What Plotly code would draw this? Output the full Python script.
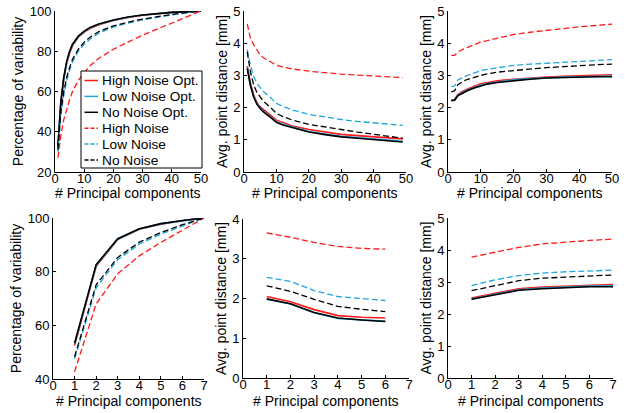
import plotly.graph_objects as go

names = ["High Noise Opt.", "Low Noise Opt.", "No Noise Opt.", "High Noise", "Low Noise", "No Noise"]
colors = ["#ff1a1a", "#1ea6db", "#000000", "#ff1a1a", "#1ea6db", "#000000"]
dashes = ["solid", "solid", "solid", "dash", "dash", "dash"]

# Panel 1: top-left (percentage of variability, 50 PCs)
x_p1 = [1, 2, 3, 4, 5, 6, 8, 10, 12, 15, 20, 25, 30, 35, 40, 45, 50]
p1_high_opt = [32, 54, 66, 74, 79, 82.8, 87, 89.5, 91.3, 93.2, 95.3, 96.8, 97.9, 98.7, 99.3, 99.7, 100]
p1_low_opt = [32.5, 54.5, 66.5, 74.5, 79.5, 83.2, 87.3, 89.8, 91.6, 93.4, 95.4, 96.9, 98.0, 98.8, 99.3, 99.7, 100]
p1_no_opt = [33, 55, 67, 75, 80, 83.5, 87.5, 90, 91.8, 93.5, 95.5, 97, 98, 98.8, 99.3, 99.7, 100]
p1_high = [27, 38, 46, 51.5, 56, 60, 65.5, 69.5, 72.8, 76.5, 81, 84.5, 88, 91, 94, 97, 100]
p1_low = [30, 48, 58, 65.5, 70.5, 74.5, 80, 83.5, 86, 89, 92, 94, 95.6, 97, 98.1, 99.1, 100]
p1_no = [31, 50, 60, 67, 72, 76, 81, 84.5, 87, 89.8, 92.6, 94.5, 96, 97.2, 98.3, 99.2, 100]

# Panel 2: top-middle (avg point distance, decreasing)
x_p2 = [1, 2, 3, 4, 5, 6, 8, 10, 12, 15, 20, 25, 30, 35, 40, 45, 49]
p2_high_opt = [3.29, 2.75, 2.39, 2.15, 2.02, 1.93, 1.78, 1.61, 1.53, 1.43, 1.32, 1.24, 1.17, 1.13, 1.09, 1.06, 1.03]
p2_low_opt = [3.24, 2.70, 2.35, 2.12, 1.99, 1.89, 1.73, 1.56, 1.48, 1.39, 1.26, 1.18, 1.11, 1.07, 1.03, 0.99, 0.95]
p2_no_opt = [3.22, 2.68, 2.33, 2.10, 1.97, 1.87, 1.71, 1.54, 1.46, 1.37, 1.24, 1.16, 1.09, 1.05, 1.01, 0.97, 0.93]
p2_high = [4.6, 4.15, 3.95, 3.78, 3.63, 3.55, 3.44, 3.32, 3.26, 3.2, 3.13, 3.08, 3.04, 3.01, 2.98, 2.95, 2.93]
p2_low = [3.8, 3.3, 2.96, 2.76, 2.62, 2.5, 2.33, 2.13, 2.04, 1.92, 1.79, 1.7, 1.63, 1.57, 1.52, 1.48, 1.45]
p2_no = [3.73, 3.1, 2.7, 2.47, 2.33, 2.2, 2.02, 1.82, 1.72, 1.61, 1.48, 1.39, 1.32, 1.24, 1.17, 1.1, 1.05]

# Panel 3: top-right (avg point distance, increasing)
x_p3 = [1, 2, 3, 4, 5, 6, 8, 10, 12, 15, 20, 25, 30, 35, 40, 45, 50]
p3_high_opt = [2.24, 2.25, 2.4, 2.48, 2.53, 2.58, 2.66, 2.74, 2.78, 2.83, 2.88, 2.92, 2.95, 2.97, 2.99, 3.01, 3.02]
p3_low_opt = [2.22, 2.24, 2.38, 2.45, 2.5, 2.55, 2.63, 2.7, 2.75, 2.8, 2.86, 2.9, 2.93, 2.95, 2.96, 2.97, 2.98]
p3_no_opt = [2.21, 2.23, 2.37, 2.43, 2.47, 2.53, 2.61, 2.68, 2.73, 2.78, 2.84, 2.88, 2.92, 2.94, 2.95, 2.96, 2.96]
p3_high = [3.62, 3.62, 3.73, 3.79, 3.83, 3.87, 3.96, 4.04, 4.08, 4.15, 4.27, 4.34, 4.4, 4.45, 4.51, 4.55, 4.59]
p3_low = [2.65, 2.67, 2.86, 2.92, 2.96, 3.0, 3.08, 3.15, 3.19, 3.24, 3.31, 3.35, 3.38, 3.41, 3.43, 3.46, 3.49]
p3_no = [2.49, 2.52, 2.71, 2.78, 2.84, 2.88, 2.95, 3.0, 3.05, 3.1, 3.15, 3.2, 3.24, 3.27, 3.31, 3.33, 3.35]

# Panel 4: bottom-left (percentage of variability, 7 PCs)
x_p4 = [1, 2, 3, 4, 5, 6, 7]
p4_high_opt = [52.5, 82, 92, 95.8, 97.7, 99, 100]
p4_low_opt = [53, 82.3, 92.1, 95.9, 97.8, 99, 100]
p4_no_opt = [53.3, 82.6, 92.3, 96, 97.9, 99.1, 100]
p4_high = [42.7, 68, 79.2, 85.9, 90.9, 95.6, 100]
p4_low = [47.5, 74, 84.5, 90.3, 94, 97, 100]
p4_no = [48.3, 75.1, 85.3, 91, 94.6, 97.5, 100]

# Panel 5: bottom-middle
x_p5 = [1, 2, 3, 4, 5, 6]
p5_high_opt = [2.05, 1.92, 1.72, 1.57, 1.53, 1.51]
p5_low_opt = [1.98, 1.86, 1.64, 1.5, 1.46, 1.43]
p5_no_opt = [1.99, 1.87, 1.65, 1.51, 1.46, 1.42]
p5_high = [3.65, 3.54, 3.41, 3.31, 3.26, 3.24]
p5_low = [2.53, 2.43, 2.2, 2.05, 2.0, 1.95]
p5_no = [2.32, 2.18, 1.98, 1.8, 1.73, 1.67]

# Panel 6: bottom-right
x_p6 = [1, 2, 3, 4, 5, 6, 7]
p6_high_opt = [2.5, 2.64, 2.79, 2.84, 2.87, 2.9, 2.92]
p6_low_opt = [2.47, 2.61, 2.76, 2.81, 2.85, 2.87, 2.88]
p6_no_opt = [2.46, 2.6, 2.74, 2.79, 2.83, 2.85, 2.85]
p6_high = [3.78, 3.93, 4.08, 4.19, 4.25, 4.3, 4.34]
p6_low = [2.89, 3.07, 3.2, 3.28, 3.32, 3.35, 3.37]
p6_no = [2.73, 2.89, 3.04, 3.12, 3.16, 3.19, 3.22]

panels = [
    (x_p1, [p1_high_opt, p1_low_opt, p1_no_opt, p1_high, p1_low, p1_no]),
    (x_p2, [p2_high_opt, p2_low_opt, p2_no_opt, p2_high, p2_low, p2_no]),
    (x_p3, [p3_high_opt, p3_low_opt, p3_no_opt, p3_high, p3_low, p3_no]),
    (x_p4, [p4_high_opt, p4_low_opt, p4_no_opt, p4_high, p4_low, p4_no]),
    (x_p5, [p5_high_opt, p5_low_opt, p5_no_opt, p5_high, p5_low, p5_no]),
    (x_p6, [p6_high_opt, p6_low_opt, p6_no_opt, p6_high, p6_low, p6_no]),
]

W, H = 628, 413
# pixel boxes: (x0, x1, ytop, ybottom)
boxes = [(55, 201, 11, 172), (244, 406, 11, 172), (448, 612, 11, 172),
         (53, 204, 218, 379), (243, 409, 219, 378), (448, 613, 218, 378)]
xtitle_y = [193, 193, 193, 401, 401, 401]
xranges = [[0, 50], [0, 50], [0, 50], [0, 7], [0, 7], [0, 7]]
yranges = [[20, 100], [0, 5], [0, 5], [40, 100], [0, 4], [0, 5]]
ydticks = [20, 1, 1, 20, 1, 1]
xdticks = [10, 10, 10, 1, 1, 1]
xtitle = "# Principal components"
ytitles = ["Percentage of variability", "Avg. point distance [mm]", "Avg. point distance [mm]",
           "Percentage of variability", "Avg. point distance [mm]", "Avg. point distance [mm]"]
DASH = "6px,3px"

fig = go.Figure()
for i, (xs, series) in enumerate(panels):
    suffix = "" if i == 0 else str(i + 1)
    for j, ys in enumerate(series):
        fig.add_trace(go.Scatter(
            x=xs, y=ys, mode="lines", name=names[j],
            line=dict(color=colors[j], dash=DASH if dashes[j] == "dash" else "solid",
                      width=1.6 if dashes[j] == "solid" else 1.3),
            xaxis="x" + suffix, yaxis="y" + suffix,
            showlegend=False, legendgroup=names[j]))

font_family = "Liberation Sans, Arial, sans-serif"
layout = dict(width=W, height=H, margin=dict(l=0, r=0, t=0, b=0),
              paper_bgcolor="white", plot_bgcolor="white", showlegend=False,
              font=dict(family=font_family, size=13, color="black"))
annotations = []
for i in range(6):
    suffix = "" if i == 0 else str(i + 1)
    x0, x1, yt, yb = boxes[i]
    axcommon = dict(showgrid=False, zeroline=False, showline=True, linecolor="black", linewidth=1,
                    ticks="inside", ticklen=3, tickcolor="black", mirror=False, automargin=False,
                    tickfont=dict(size=13, family=font_family, color="black"))
    layout["xaxis" + suffix] = dict(axcommon, domain=[x0 / W, x1 / W], range=xranges[i],
                                    dtick=xdticks[i], tick0=0, anchor="y" + suffix,
                                    ticklabelstandoff=-6)
    layout["yaxis" + suffix] = dict(axcommon, domain=[1 - yb / H, 1 - yt / H], range=yranges[i],
                                    dtick=ydticks[i], tick0=0, anchor="x" + suffix,
                                    title=dict(text=ytitles[i], standoff=2, font=dict(size=14)))
    # x-axis title placed just under the tick labels
    annotations.append(dict(text=xtitle, xref="x" + suffix + " domain", yref="paper",
                            x=0.5, y=1 - xtitle_y[i] / H, xanchor="center", yanchor="middle",
                            showarrow=False, font=dict(size=14, family=font_family, color="black")))

# Legend box drawn in the first panel (paper coordinates)
lx0, lx1, ly0, ly1 = 81, 202, 71, 168
row0, rowstep = 80.5, 15.9
shapes = [dict(type="rect", xref="paper", yref="paper", x0=lx0 / W, x1=lx1 / W,
               y0=1 - ly1 / H, y1=1 - ly0 / H, line=dict(color="black", width=1),
               fillcolor="white", layer="above")]
for j in range(len(names)):
    yy = 1 - (row0 + j * rowstep) / H
    shapes.append(dict(type="line", xref="paper", yref="paper", x0=84.5 / W, x1=98 / W,
                       y0=yy, y1=yy, layer="above",
                       line=dict(color=colors[j], width=1.5,
                                 dash="4px,2px" if dashes[j] == "dash" else "solid")))
    annotations.append(dict(text=names[j], xref="paper", yref="paper", x=99.5 / W, y=yy,
                            xanchor="left", yanchor="middle", showarrow=False,
                            font=dict(size=13.7, family=font_family, color="black")))
layout["shapes"] = shapes
layout["annotations"] = annotations
fig.update_layout(**layout)
fig.write_html("out.html", config={"displayModeBar": False},
               post_script="document.body.style.margin='0px';")
